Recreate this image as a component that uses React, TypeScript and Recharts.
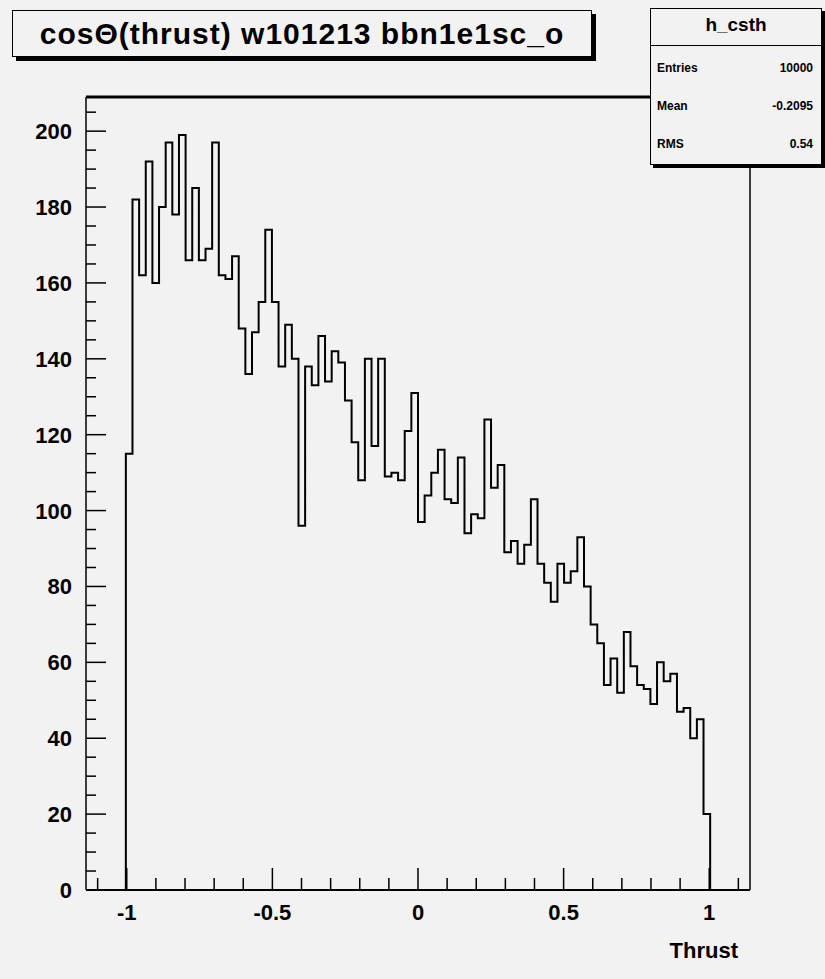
import React from "react";
import { ComposedChart, Line, XAxis, YAxis, ReferenceLine } from "recharts";

// histogram binning (100 bins over the frame range)
const xMin = -1.14;
const xMax = 1.14;
const nBins = 100;
const firstFilledBin = 6;

// bin contents, bins 6..93
const binCounts = [
  115, 182, 162, 192, 160, 180, 197, 178, 199, 166, 185, 166, 169, 197, 162, 161, 167, 148, 136, 147, 155, 174, 155, 138,
  149, 140, 96, 138, 133, 146, 134, 142, 139, 129, 118, 108, 140, 117, 140, 109, 110, 108, 121, 131, 97, 104, 110, 116,
  103, 102, 114, 94, 99, 98, 124, 106, 112, 89, 92, 86, 91, 103, 86, 81, 76, 86, 81, 84, 93, 80, 70, 65,
  54, 61, 52, 68, 59, 54, 53, 49, 60, 55, 57, 47, 48, 40, 45, 20,
];

const xMajorTicks = [-1, -0.5, 0, 0.5, 1];
const xMinorTicks = [-1.1, -0.9, -0.8, -0.7, -0.6, -0.4, -0.3, -0.2, -0.1, 0.1, 0.2, 0.3, 0.4, 0.6, 0.7, 0.8, 0.9, 1.1];
const yMajorTicks = [0, 20, 40, 60, 80, 100, 120, 140, 160, 180, 200];
const yMinorTicks = [5, 10, 15, 25, 30, 35, 45, 50, 55, 65, 70, 75, 85, 90, 95, 105, 110, 115, 125, 130, 135, 145, 150, 155, 165, 170, 175, 185, 190, 195, 205];
const yMax = 209;

const histTitle = "cos\u0398(thrust) w101213 bbn1e1sc_o";
const statsName = "h_csth";
const statsRows = [
  ["Entries", "10000"],
  ["Mean", "-0.2095"],
  ["RMS", "0.54"],
];

const W = 825;
const H = 979;
const FRAME_LEFT = 86;
const FRAME_RIGHT = 750;
const FRAME_TOP = 97;
const FRAME_BOTTOM = 890;
const FONT = "'Liberation Sans', Arial, Helvetica, sans-serif";

const binWidth = (xMax - xMin) / nBins;
const data = [];
for (let k = 0; k < nBins; k++) {
  const i = k - firstFilledBin;
  data.push({ x: xMin + k * binWidth, count: i >= 0 && i < binCounts.length ? binCounts[i] : 0 });
}
data.push({ x: xMax, count: 0 });

const XTick = (props: any) => {
  const { x, payload } = props;
  const major = xMajorTicks.includes(payload.value);
  return (
    <g>
      <line x1={x} x2={x} y1={FRAME_BOTTOM} y2={FRAME_BOTTOM - (major ? 22 : 12)} stroke="#000" strokeWidth={1.5} />
      {major && (
        <text x={x} y={FRAME_BOTTOM + 30} textAnchor="middle" fontFamily={FONT} fontWeight="bold" fontSize={22} fill="#000">
          {String(payload.value)}
        </text>
      )}
    </g>
  );
};

const YTick = (props: any) => {
  const { y, payload } = props;
  const major = yMajorTicks.includes(payload.value);
  return (
    <g>
      <line x1={FRAME_LEFT} x2={FRAME_LEFT + (major ? 20 : 10)} y1={y} y2={y} stroke="#000" strokeWidth={1.5} />
      {major && (
        <text x={72} y={y + 8} textAnchor="end" fontFamily={FONT} fontWeight="bold" fontSize={22} fill="#000">
          {String(payload.value)}
        </text>
      )}
    </g>
  );
};

export default function App() {
  return (
    <div style={{ position: "absolute", left: 0, top: 0, width: W, height: H, background: "#f2f2f2" }}>
      <ComposedChart
        width={W}
        height={H}
        data={data}
        margin={{ top: FRAME_TOP, right: W - FRAME_RIGHT, bottom: H - FRAME_BOTTOM - 30, left: FRAME_LEFT - 60 }}
      >
        <XAxis
          dataKey="x"
          type="number"
          domain={[xMin, xMax]}
          allowDataOverflow
          ticks={[...xMinorTicks, ...xMajorTicks]}
          interval={0}
          tick={<XTick />}
          tickLine={false}
          axisLine={{ stroke: "#000", strokeWidth: 2 }}
          height={30}
        />
        <YAxis
          type="number"
          domain={[0, yMax]}
          allowDataOverflow
          ticks={[...yMinorTicks, ...yMajorTicks]}
          interval={0}
          tick={<YTick />}
          tickLine={false}
          axisLine={{ stroke: "#000", strokeWidth: 1.5 }}
          width={60}
        />
        <ReferenceLine y={yMax} stroke="#000" strokeWidth={3} />
        <ReferenceLine x={xMax} stroke="#000" strokeWidth={1.5} />
        <Line
          dataKey="count"
          type="stepAfter"
          stroke="#000"
          strokeWidth={2}
          dot={false}
          activeDot={false}
          isAnimationActive={false}
        />
      </ComposedChart>

      <div
        style={{
          position: "absolute",
          left: 12,
          top: 10,
          width: 578,
          height: 45,
          border: "1.5px solid #000",
          background: "#f2f2f2",
          boxShadow: "4px 4px 0 #000",
          fontFamily: FONT,
          fontWeight: "bold",
          fontSize: 30,
          letterSpacing: 1,
          lineHeight: "45px",
          textAlign: "center",
        }}
      >
        {histTitle}
      </div>

      <div
        style={{
          position: "absolute",
          left: 650,
          top: 8,
          width: 170,
          height: 155,
          border: "1.5px solid #000",
          background: "#f2f2f2",
          boxShadow: "3px 3px 0 #000",
          fontFamily: FONT,
          fontWeight: "bold",
        }}
      >
        <div style={{ height: 36, lineHeight: "32px", textAlign: "center", fontSize: 19, borderBottom: "1.5px solid #000" }}>
          {statsName}
        </div>
        {statsRows.map(([label, value]) => (
          <div
            key={label}
            style={{ display: "flex", justifyContent: "space-between", height: 38, lineHeight: "44px", padding: "0 8px 0 6px", fontSize: 12 }}
          >
            <span>{label}</span>
            <span>{value}</span>
          </div>
        ))}
      </div>

      <div
        style={{
          position: "absolute",
          left: 640,
          top: 938,
          width: 98,
          textAlign: "right",
          fontFamily: FONT,
          fontWeight: "bold",
          fontSize: 22,
        }}
      >
        Thrust
      </div>
    </div>
  );
}
